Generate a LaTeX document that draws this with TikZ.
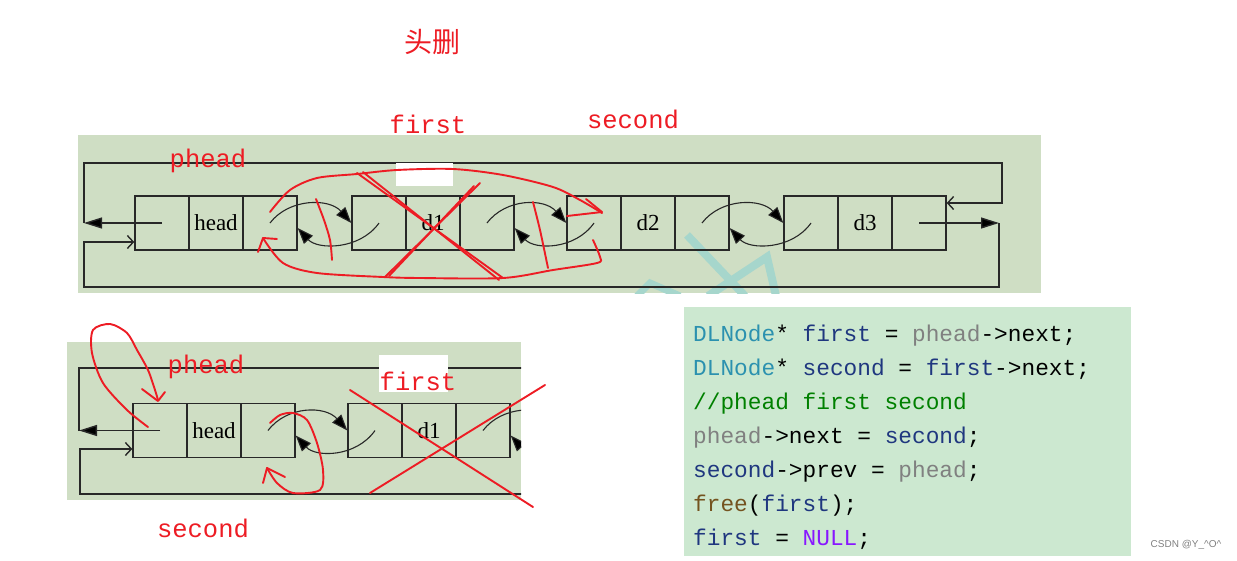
\documentclass[tikz,border=0pt]{standalone}
\usepackage{fontspec}
\setmainfont{Liberation Serif}
\setmonofont{Liberation Mono}
\setsansfont{Liberation Sans}
\newfontfamily\cjk{Noto Sans CJK SC}
\usetikzlibrary{arrows.meta}

\definecolor{panel}{RGB}{207,222,196}
\definecolor{codebg}{RGB}{204,232,208}
\definecolor{pen}{RGB}{237,28,36}
\definecolor{wm}{RGB}{166,214,204}
\definecolor{ink}{RGB}{40,40,40}
\definecolor{kwtype}{RGB}{43,145,175}
\definecolor{kwvar}{RGB}{31,55,127}
\definecolor{kwmacro}{RGB}{128,128,128}
\definecolor{kwcomm}{RGB}{0,128,0}
\definecolor{kwfun}{RGB}{116,83,31}
\definecolor{kwnull}{RGB}{136,23,255}

\tikzset{
  cell/.style={draw=ink,line width=1.4pt,minimum width=54pt,minimum height=54pt,inner sep=0pt,font=\fontsize{23}{23}\selectfont},
  wire/.style={draw=ink,line width=1.4pt},
  link/.style={ink,line width=1.1pt,-{Triangle[length=16pt,width=12pt,fill=black]}},
  fillend/.style={-{Triangle[length=18pt,width=11pt,fill=black]}},
  openend/.style={-{Straight Barb[length=6pt,width=13pt]}},
  redpen/.style={pen,line width=1.9pt,line cap=round,line join=round},
  redlabel/.style={text=pen,inner sep=0pt,anchor=base,font=\ttfamily\fontsize{25.5}{25.5}\selectfont},
  codeline/.style={inner sep=0pt,anchor=base west,font=\ttfamily\fontsize{22.8}{22.8}\selectfont},
}

\begin{document}
\begin{tikzpicture}[x=1pt,y=-1pt]
\useasboundingbox (0,0) rectangle (1237,560);

% top panel
\fill[panel] (78,135) rectangle (1041,293);
\begin{scope}
\clip (78,135) rectangle (1041,293);
\draw[wm,line width=8pt] (687,235) -- (745,296);
\draw[wm,line width=8pt] (708,296) -- (767,257) -- (776,296);
\draw[wm,line width=7pt] (637,296) -- (650,283) -- (680,296);
\end{scope}

\foreach \nm/\x/\lab in {a/135/head,b/352/d1,c/567/d2,d/784/d3}{
  \node[cell] (\nm-p) at (\x+27,223) {};
  \node[cell] (\nm-d) at (\x+81,223) {\lab};
  \node[cell] (\nm-n) at (\x+135,223) {};
}
\foreach \u/\v in {a/b,b/c,c/d}{
  \draw[link] (\u-n.center) .. controls +(19,-25) and +(-22,-25) .. (\v-p.west);
  \draw[link] (\v-p.center) .. controls +(-19,27) and +(20,22) .. ([yshift=-5pt]\u-n.east);
}
\coordinate (tl) at (84,163);
\coordinate (tr) at (1002,163);
\coordinate (bl) at (84,287);
\coordinate (br) at (999,287);
\draw[wire,openend] (tl |- a-p.center) -- (tl) -- (tr) |- ([yshift=20pt]d-n.east);
\draw[wire,fillend] (a-p.center) -- (a-p.center -| tl);
\draw[wire,openend] (br |- d-n.center) -- (br) -- (bl) |- ([yshift=-19pt]a-p.west);
\draw[wire,fillend] (d-n.center) -- (d-n.center -| br);

% lower panel
\begin{scope}
\clip (67,342) rectangle (521,500);
\fill[panel] (67,342) rectangle (521,500);
\foreach \nm/\x/\lab in {e/133/head,f/348/d1}{
  \node[cell] (\nm-p) at (\x+27,430.5) {};
  \node[cell] (\nm-d) at (\x+81,430.5) {\lab};
  \node[cell] (\nm-n) at (\x+135,430.5) {};
}
\coordinate (g-w) at (564,430.5);
\coordinate (g-p) at (591,430.5);
\draw[link] (e-n.center) .. controls +(19,-25) and +(-22,-25) .. (f-p.west);
\draw[link] (f-p.center) .. controls +(-19,27) and +(20,22) .. ([yshift=-5pt]e-n.east);
\draw[link] (f-n.center) .. controls +(19,-25) and +(-22,-25) .. (g-w);
\draw[link] (g-p) .. controls +(-19,27) and +(20,22) .. ([yshift=-5pt]f-n.east);
\coordinate (ltl) at (79,368);
\coordinate (ltr) at (540,368);
\coordinate (lbl) at (80,494);
\coordinate (lbr) at (540,494);
\draw[wire] (ltl |- e-p.center) -- (ltl) -- (ltr);
\draw[wire,fillend] (e-p.center) -- (e-p.center -| ltl);
\draw[wire,openend] (lbr) -- (lbl) |- ([yshift=-18.5pt]e-p.west);
\end{scope}

% white patches
\fill[white] (396,163) rectangle (453,186);
\fill[white] (379,355) rectangle (448,392);

% red notes
\node[text=pen,inner sep=0pt,font=\cjk\fontsize{28}{28}\selectfont] (title) at (432,42) {头删};
\node[redlabel] (first1) at (428,133) {first};
\node[redlabel] (second1) at (633,128) {second};
\node[redlabel] (phead1) at (208,167) {phead};
\node[redlabel] (phead2) at (206,373) {phead};
\node[redlabel] (first2) at (418,390) {first};
\node[redlabel] (second2) at (203,537) {second};

\draw[redpen] plot[smooth] coordinates {(270,212) (290,190) (317,178) (357,174) (397,170) (453,169) (503,175) (553,187) (580,200) (602,213)};
\draw[redpen] (567,216) -- (602,212) -- (586,199);
\draw[redpen] plot[smooth] coordinates {(593,240) (600,257) (597,263) (553,270) (503,278) (420,278) (383,277) (317,273) (283,263) (263,238)};
\draw[redpen] (258,252) -- (263,238) -- (277,239);
\draw[redpen] plot[smooth] coordinates {(316,199) (324,220) (330,240) (332,260)};
\draw[redpen] plot[smooth] coordinates {(533,202) (540,230) (548,268)};
\draw[redpen] (357,173) -- (503,278);
\draw[redpen] (363,172) -- (499,280);
\draw[redpen] (385,277) -- (480,183);
\draw[redpen] (389,276) -- (474,186);

\draw[redpen] plot[smooth] coordinates {(148,427) (127,410) (103,383) (92,353) (93,330) (110,324) (127,333) (137,350) (148,370) (155,390) (158,400)};
\draw[redpen] (142,389) -- (158,401) -- (165,392);
\draw[redpen] plot[smooth] coordinates {(270,423) (280,415) (293,413) (307,420) (317,443) (323,470) (320,490) (293,493) (277,483) (267,468)};
\draw[redpen] (263,483) -- (267,468) -- (285,477);
\draw[redpen] (350,390) -- (533,507);
\draw[redpen] (370,493) -- (545,385);

% code
\fill[codebg] (684,307) rectangle (1131,556);
\node[codeline] (c1) at (693,341) {\textcolor{kwtype}{DLNode}* \textcolor{kwvar}{first} = \textcolor{kwmacro}{phead}->next;};
\node[codeline] (c2) at (693,375) {\textcolor{kwtype}{DLNode}* \textcolor{kwvar}{second} = \textcolor{kwvar}{first}->next;};
\node[codeline] (c3) at (693,409) {\textcolor{kwcomm}{//phead first second}};
\node[codeline] (c4) at (693,443) {\textcolor{kwmacro}{phead}->next = \textcolor{kwvar}{second};};
\node[codeline] (c5) at (693,477) {\textcolor{kwvar}{second}->prev = \textcolor{kwmacro}{phead};};
\node[codeline] (c6) at (693,511) {\textcolor{kwfun}{free}(\textcolor{kwvar}{first});};
\node[codeline] (c7) at (693,545) {\textcolor{kwvar}{first} = \textcolor{kwnull}{NULL};};

\node[text=gray,inner sep=0pt,font=\sffamily\fontsize{10}{10}\selectfont] (mark) at (1186,545) {CSDN @Y\_\textasciicircum O\textasciicircum};
\end{tikzpicture}
\end{document}
